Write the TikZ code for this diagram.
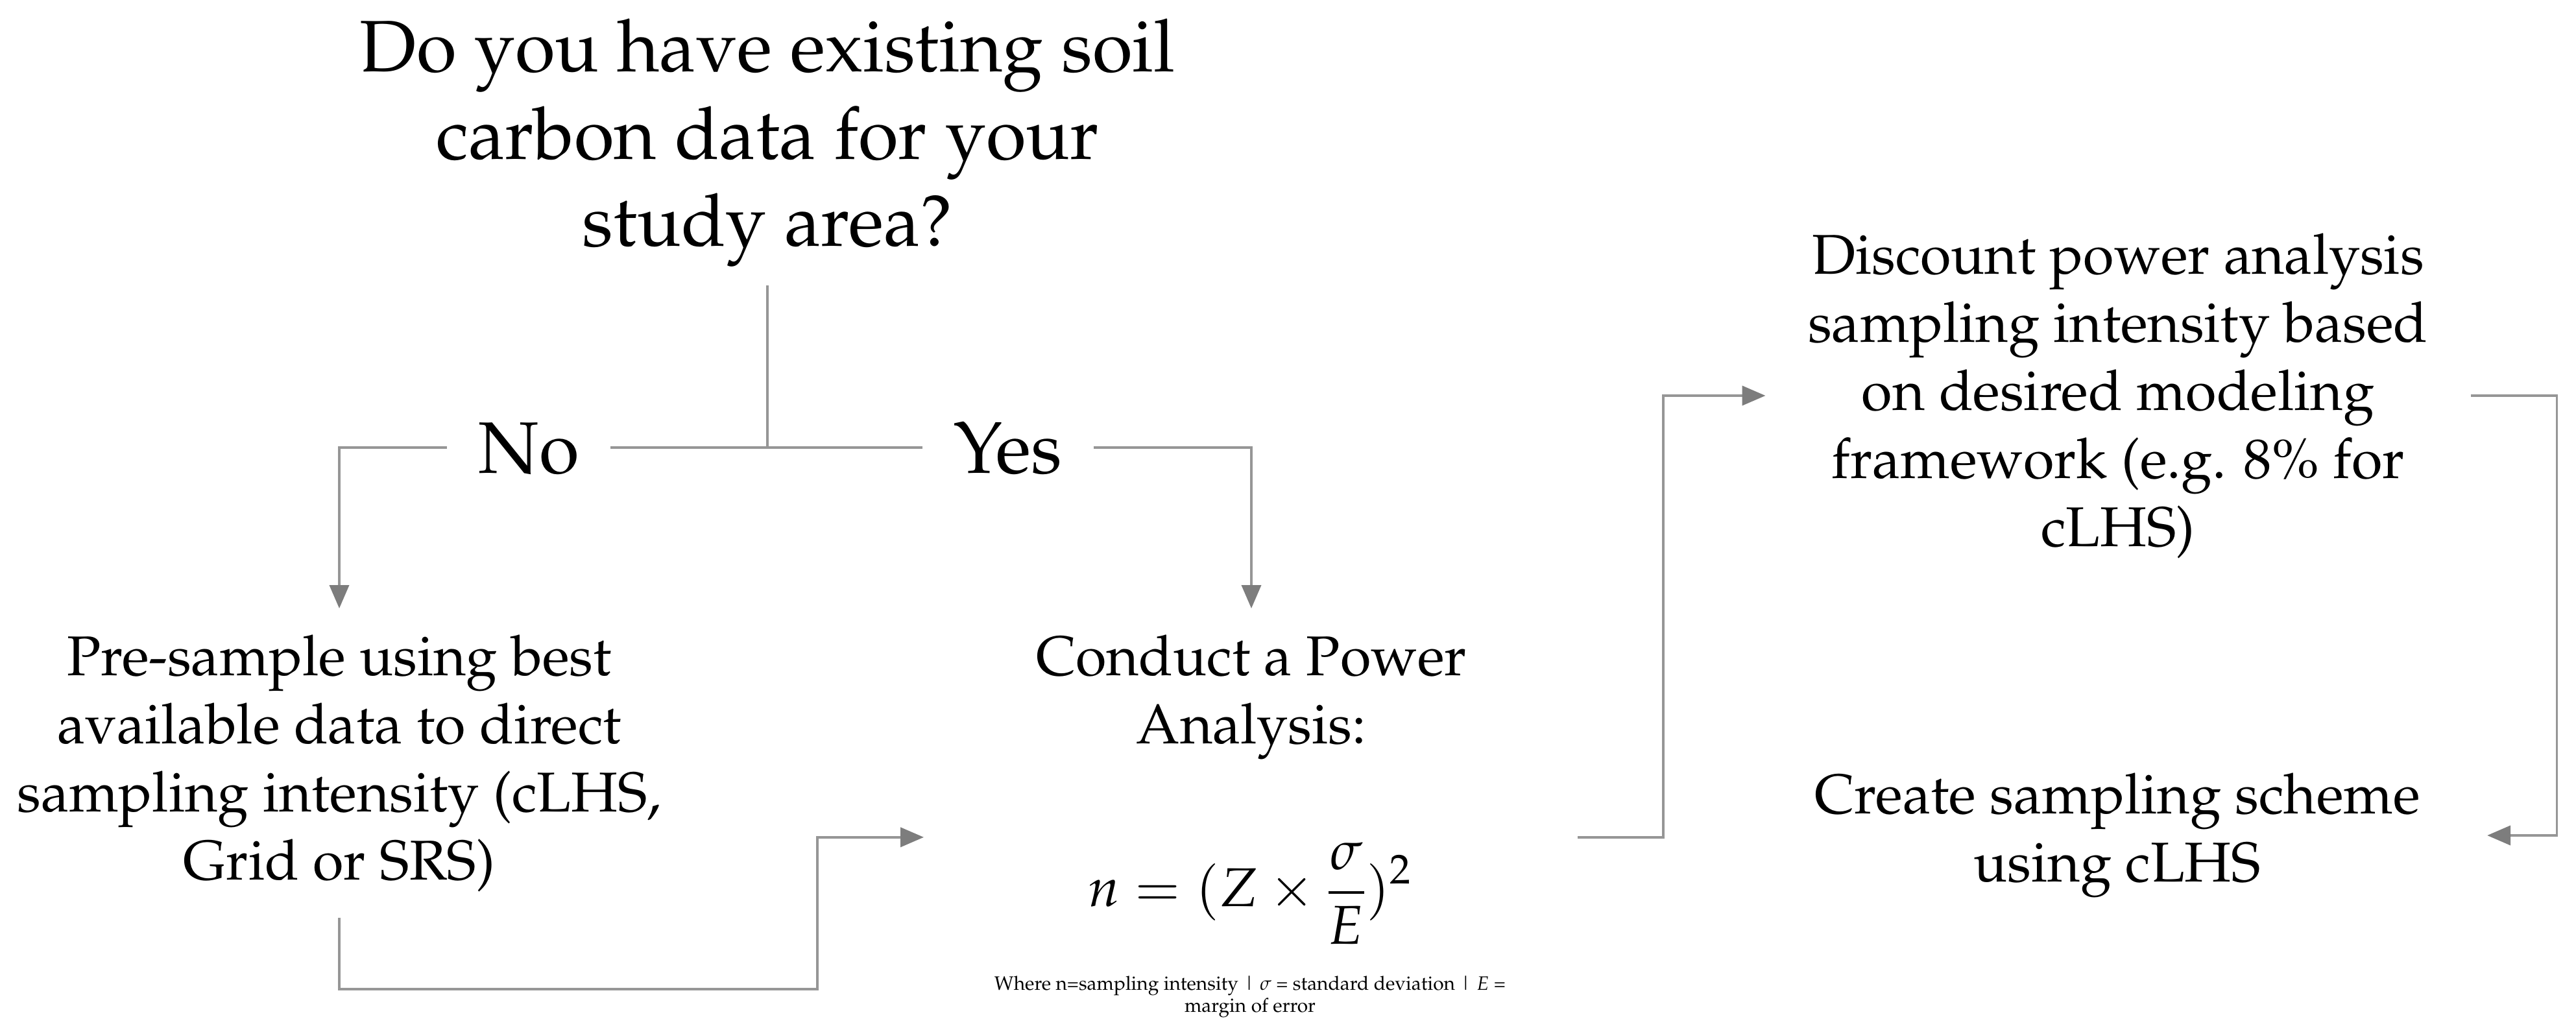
\documentclass[tikz,border=0pt]{standalone}
\usepackage[T1]{fontenc}
\usepackage{mathpazo}
\usepackage{amsmath}
\usepackage{tikz}
\usetikzlibrary{arrows.meta, positioning}

\definecolor{linegray}{RGB}{150,150,150}
\definecolor{tipgray}{RGB}{125,125,125}

\tikzset{
  link/.style={draw=linegray, line width=1.1pt},
  flow/.style={link, -{Triangle[length=3.6mm, width=3mm, color=tipgray]}},
  steptext/.style={align=center, font={\fontsize{24.6}{29.9}\selectfont}, inner xsep=0pt, inner ysep=0.4cm},
  answer/.style={font={\fontsize{32}{38}\selectfont}, inner xsep=0.48cm, inner ysep=0pt},
}

\begin{document}
\begin{tikzpicture}
    \useasboundingbox (0,0) rectangle (39.71,-15.88);

    % Question and its two answers
    \node[align=center, font={\fontsize{32}{38.4}\selectfont}, inner xsep=0pt, inner ysep=0.28cm, anchor=north] (quest) at (11.83,0) {Do you have existing soil\\carbon data for your\\study area?};
    \coordinate (split) at (11.83,-6.9);
    \node[answer] (no) at (8.15,-6.92) {No};
    \node[answer] (yes) at (15.54,-6.92) {Yes};

    % Steps
    \node[steptext, anchor=north] (presample) at (5.23,-9.38) {Pre-sample using best\\available data to direct\\sampling intensity (cLHS,\\Grid or SRS)};
    \node[steptext, anchor=north] (power) at (19.29,-9.38) {Conduct a Power\\Analysis:};
    \node[font={\fontsize{24}{29}\selectfont}, inner sep=0pt] (formula) at (19.27,-13.77) {$\displaystyle n=(Z\times\frac{\sigma}{E})^2$};
    \node[align=center, font={\fontsize{8.5}{8.5}\selectfont}, inner sep=0pt] (note) at (19.27,-15.37) {Where n=sampling intensity | $\sigma$ = standard deviation | $E$ =\\margin of error};
    \node[steptext, inner xsep=0.65cm, inner ysep=0pt] (discount) at (32.65,-6.10) {Discount power analysis\\sampling intensity based\\on desired modeling\\framework (e.g. 8\% for\\cLHS)};
    \node[steptext, inner xsep=1.03cm, inner ysep=0pt] (scheme) at (32.64,-12.88) {Create sampling scheme\\using cLHS};

    % Ends of the power analysis block
    \path (formula.north) ++(-5.03,0.07) coordinate (powin) ++(10.08,0) coordinate (powout);
    \coordinate (lowbend) at (12.6,-15.25);

    % Connectors
    \draw[link] (quest.south) -- (split);
    \draw[link] (split) -- (no.east |- split);
    \draw[flow] (no.west |- split) -| (presample.north);
    \draw[link] (split) -- (yes.west |- split);
    \draw[flow] (yes.east |- split) -| (power.north);
    \draw[flow] (presample.south) |- (lowbend) |- (powin);
    \draw[flow] (powout) -- ++(1.32,0) |- (discount.west);
    \draw[flow] (discount.east) -- ++(1.33,0) |- (scheme.east);
\end{tikzpicture}
\end{document}
